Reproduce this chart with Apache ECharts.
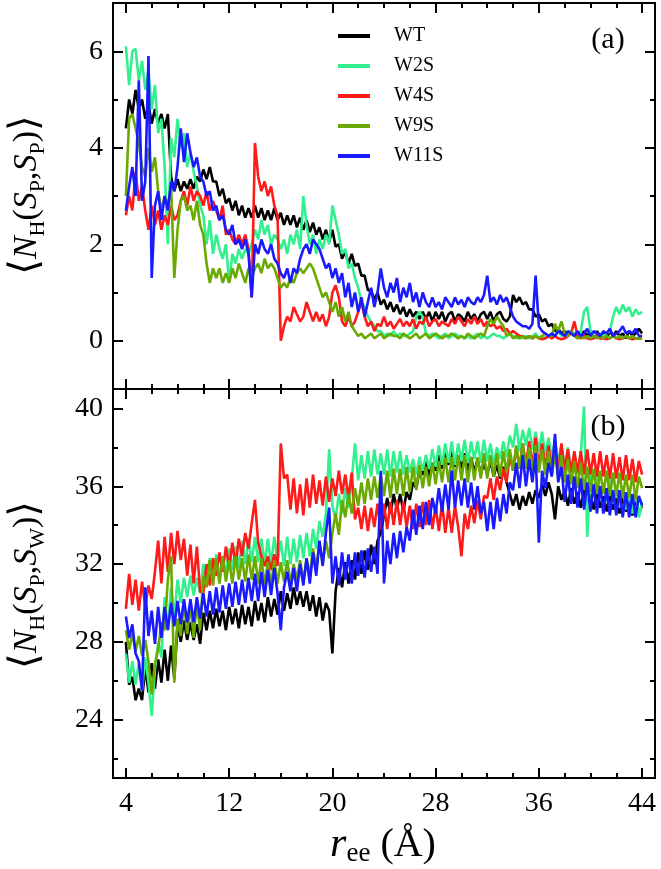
<!DOCTYPE html>
<html><head><meta charset="utf-8">
<script src="https://cdn.jsdelivr.net/npm/echarts@6/dist/echarts.min.js"></script>
<style>html,body{margin:0;padding:0;background:#fff}#c{width:661px;height:869px}</style>
</head><body><div id="c"></div><script>
// r_ee grid: starts at 4 Å, sampled every 0.25 Å up to 44 Å
const R_START = 4, R_STEP = 0.25;
const seriesNames = ['WT', 'W2S', 'W4S', 'W9S', 'W11S'];
const seriesColors = ['#000000', '#33f08f', '#ff1a1a', '#6aaa00', '#1a1aff'];
const xTicks = [4, 12, 20, 28, 36, 44];
const xMinorTicks = [6, 8, 10, 14, 16, 18, 22, 24, 26, 30, 32, 34, 38, 40, 42];
const yTopTicks = [0, 2, 4, 6];
const yTopMinorTicks = [1, 3, 5];
const yBotTicks = [24, 28, 32, 36, 40];
const yBotMinorTicks = [22, 26, 30, 34, 38];

// Panel (a): <N_H(S_P,S_P)>
const topWT = [4.4,5.0,4.7,5.2, 4.8,5.0,4.6,4.9, 4.5,4.8,4.5,4.7, 4.4,4.7,3.4,3.1, 3.35,3.1,3.3,3.15, 3.35,3.15,3.4,3.3,
 3.55,3.35,3.6,3.3, 3.3,3.0,3.15,2.85, 2.95,2.7,2.9,2.6, 2.8,2.55,2.75,2.55, 2.8,2.55,2.75,2.5, 2.7,2.5,2.75,2.5,
 2.65,2.4,2.6,2.4, 2.6,2.35,2.55,2.3, 2.5,2.25,2.45,2.2, 2.35,2.1,2.3,2.05, 2.3,1.95,2.0,1.7, 1.85,1.6,1.8,1.55,
 1.6,1.35,1.35,1.05, 1.05,0.85,1.0,0.75, 0.85,0.65,0.8,0.6, 0.75,0.55,0.7,0.5, 0.65,0.5,0.6,0.45, 0.6,0.45,0.6,0.4,
 0.6,0.45,0.6,0.4, 0.55,0.6,0.4,0.55, 0.5,0.4,0.6,0.45, 0.55,0.4,0.55,0.6, 0.45,0.6,0.4,0.55, 0.6,0.45,0.4,0.5,
 0.95,0.8,0.9,0.75, 0.8,0.65,0.65,0.5, 0.55,0.4,0.45,0.3, 0.35,0.2,0.25,0.15, 0.2,0.1,0.2,0.1, 0.15,0.05,0.2,0.1,
 0.2,0.05,0.2,0.1, 0.15,0.05,0.2,0.1, 0.2,0.1,0.15,0.05, 0.2,0.1,0.15,0.25, 0.15];
const topW2S = [6.1,5.3,6.0,6.05, 5.4,5.8,5.2,5.6, 4.8,5.3,4.3,4.6, 3.6,2.0,4.2,3.8, 4.6,4.0,4.3,3.6, 3.9,3.5,3.2,2.8,
 2.6,2.0,2.5,1.8, 2.2,1.9,1.7,2.0, 1.2,1.8,1.6,1.9, 1.7,1.9,1.8,2.0, 2.3,2.1,2.5,2.2, 2.4,2.0,2.2,2.1,
 1.9,2.1,1.8,2.2, 2.0,2.3,1.9,3.0, 2.4,2.0,2.2,1.8, 2.1,1.9,2.2,2.0, 2.8,2.5,2.2,1.8, 1.9,1.5,1.6,1.3,
 1.1,0.8,0.7,0.5, 0.4,0.3,0.2,0.2, 0.1,0.15,0.1,0.2, 0.1,0.15,0.1,0.1, 0.15,0.2,0.5,0.6, 0.5,0.15,0.1,0.15,
 0.1,0.05,0.1,0.15, 0.05,0.1,0.15,0.1, 0.1,0.05,0.1,0.05, 0.1,0.15,0.05,0.1, 0.05,0.1,0.15,0.1, 0.1,0.05,0.1,0.15,
 0.1,0.05,0.1,0.05, 0.1,0.05,0.1,0.15, 0.05,0.1,0.05,0.1, 0.15,0.1,0.2,0.1, 0.15,0.1,0.2,0.15, 0.1,0.2,0.6,0.7,
 0.2,0.1,0.15,0.1, 0.1,0.15,0.2,0.5, 0.7,0.55,0.75,0.6, 0.7,0.5,0.65,0.55, 0.6];
const topW4S = [2.6,3.0,2.7,3.5, 2.9,3.2,2.7,2.3, 2.8,2.4,2.7,2.3, 2.6,2.4,2.8,2.5, 2.6,2.9,3.1,2.8, 3.2,2.9,3.1,3.0,
 2.8,3.1,2.7,2.9, 2.7,2.5,2.8,2.2, 2.3,2.1,2.0,2.2, 2.0,2.2,1.9,0.9, 4.1,3.4,3.1,3.3, 3.0,3.2,2.8,2.6,
 0.0,0.3,0.5,0.4, 0.7,0.55,0.4,0.5, 0.8,0.6,0.4,0.6, 0.4,0.55,0.3,0.5, 1.0,1.15,0.9,0.4, 0.3,0.5,0.3,0.4,
 0.6,0.8,0.5,0.3, 0.4,0.2,0.35,0.3, 0.5,0.3,0.4,0.25, 0.35,0.45,0.3,0.4, 0.3,0.45,0.25,0.4, 0.35,0.5,0.3,0.4,
 0.45,0.3,0.4,0.35, 0.3,0.45,0.35,0.5, 0.4,0.3,0.45,0.35, 0.5,0.35,0.45,0.3, 0.4,0.3,0.35,0.25, 0.3,0.2,0.25,0.15,
 0.2,0.15,0.1,0.1, 0.05,0.1,0.05,0.1, 0.05,0.03,0.05,0.1, 0.05,0.1,0.05,0.03, 0.05,0.1,0.15,0.4, 0.1,0.05,0.1,0.05,
 0.03,0.05,0.1,0.05, 0.05,0.03,0.05,0.1, 0.05,0.03,0.05,0.1, 0.05,0.03,0.05,0.05, 0.05];
const topW9S = [3.0,4.6,4.7,4.4, 4.1,3.6,3.4,4.0, 3.5,3.8,3.1,2.7, 3.0,2.8,3.2,1.3, 2.3,2.9,3.0,2.7, 2.8,2.5,2.9,2.4,
 2.2,1.6,1.2,1.5, 1.3,1.5,1.2,1.4, 1.2,1.5,1.3,1.6, 1.4,1.2,1.5,1.3, 1.5,1.6,1.4,1.7, 1.5,1.6,1.5,1.3,
 1.1,1.2,1.1,1.3, 1.2,1.4,1.5,1.4, 1.5,1.6,1.5,1.3, 1.1,0.9,1.0,0.8, 0.6,0.8,0.5,0.7, 0.4,0.6,0.3,0.2,
 0.1,0.15,0.05,0.1, 0.15,0.05,0.1,0.15, 0.05,0.1,0.15,0.1, 0.1,0.05,0.15,0.1, 0.05,0.1,0.15,0.05, 0.1,0.15,0.05,0.1,
 0.15,0.1,0.05,0.1, 0.1,0.15,0.1,0.05, 0.1,0.05,0.15,0.1, 0.05,0.1,0.15,0.1, 0.3,0.45,0.35,0.5, 0.4,0.3,0.1,0.15,
 0.05,0.1,0.05,0.1, 0.05,0.1,0.05,0.1, 0.05,0.1,0.15,0.1, 0.1,0.35,0.2,0.4, 0.15,0.1,0.2,0.1, 0.05,0.1,0.05,0.1,
 0.05,0.1,0.05,0.1, 0.05,0.1,0.05,0.1, 0.05,0.1,0.05,0.1, 0.05,0.1,0.05,0.05, 0.05];
const topW11S = [2.7,3.2,3.6,3.0, 5.4,2.9,3.3,5.9, 1.3,2.8,3.1,2.5, 3.0,2.7,3.3,3.1, 3.6,4.4,3.7,4.3, 3.9,3.6,3.8,3.4,
 3.3,3.0,3.1,2.7, 2.8,2.5,2.6,2.3, 2.2,2.4,2.0,2.1, 1.9,2.1,1.8,0.9, 2.0,1.8,2.1,1.9, 1.8,2.0,1.7,1.6,
 1.4,1.3,1.5,1.2, 1.5,1.4,1.7,1.9, 2.0,1.8,2.1,2.0, 1.9,1.7,1.5,1.6, 1.3,1.5,1.2,1.4, 0.9,1.2,0.7,1.0,
 0.6,0.9,0.5,0.8, 1.1,0.7,1.0,1.5, 1.1,0.9,1.2,1.0, 1.3,0.8,1.1,0.9, 1.2,0.8,1.0,0.7, 1.0,0.8,0.7,0.9,
 0.7,0.8,0.65,0.9, 0.8,0.7,0.9,0.75, 0.85,0.7,0.9,0.8, 0.75,0.9,0.8,0.95, 1.35,0.8,0.9,0.75, 0.95,0.8,0.9,0.7,
 0.5,0.4,0.35,0.3, 0.3,0.25,0.35,1.35, 0.3,0.2,0.15,0.1, 0.15,0.1,0.2,0.15, 0.1,0.2,0.15,0.1, 0.2,0.1,0.15,0.25,
 0.1,0.2,0.15,0.1, 0.2,0.15,0.25,0.1, 0.15,0.2,0.3,0.15, 0.2,0.15,0.25,0.1, 0.1];

// Panel (b): <N_H(S_P,S_W)>
const botWT = [28.0,25.8,26.2,25.0, 25.6,25.0,26.7,25.4, 26.9,25.6,27.1,25.9, 27.6,26.0,27.8,26.1, 28.9,28.0,29.1,28.1, 29.0,28.1,28.9,27.9,
 29.5,28.6,29.6,28.7, 29.7,28.8,29.6,28.6, 29.8,28.9,29.7,28.7, 29.9,28.9,29.8,28.8, 30.1,29.1,30.0,29.0, 30.3,29.3,30.2,29.4,
 30.6,29.6,30.5,29.7, 30.8,29.9,30.6,29.8, 30.6,29.6,30.4,29.3, 30.3,29.1,30.0,29.6, 27.4,30.6,31.8,30.8, 32.1,31.0,32.2,31.2,
 32.6,31.5,32.7,31.7, 33.0,32.0,33.2,33.6, 34.5,35.4,34.6,35.6, 34.8,35.6,34.7,35.7, 35.3,36.2,35.9,36.8, 36.6,37.3,36.5,37.2,
 36.8,37.6,36.9,37.7, 37.1,37.9,37.0,37.6, 36.9,37.7,36.8,37.5, 36.7,37.4,36.6,37.2, 36.6,37.3,36.5,37.1, 36.4,37.0,36.2,35.6,
 35.0,35.6,34.8,35.5, 35.0,35.7,35.1,35.8, 35.4,36.1,35.5,36.2, 35.6,34.3,36.0,35.3, 35.8,35.0,35.9,35.1, 35.7,34.9,35.8,35.0,
 35.6,34.8,35.7,34.9, 35.5,34.7,35.6,34.8, 35.4,34.6,35.5,34.7, 35.3,34.5,35.4,34.6, 35.0];
const botW2S = [27.4,25.9,27.0,25.8, 26.9,25.5,27.2,25.9, 24.2,26.6,28.0,27.2, 30.3,28.6,30.8,29.2, 31.2,30.0,31.3,30.3, 31.4,30.4,31.3,30.5,
 32.0,30.9,32.3,31.2, 32.5,31.3,32.4,31.4, 32.8,31.7,32.9,31.8, 33.2,32.0,33.3,32.1, 33.4,32.1,33.3,32.0, 33.3,32.0,33.4,32.1,
 33.2,31.9,33.4,32.0, 33.3,32.1,33.5,32.3, 33.6,32.4,33.8,32.8, 34.2,33.4,34.6,37.9, 35.0,34.3,35.6,34.6, 35.9,34.9,36.3,38.2,
 36.3,37.6,36.4,37.8, 36.5,37.9,36.6,37.7, 36.6,37.9,36.5,37.8, 36.7,37.8,36.6,37.6, 36.7,37.4,36.6,37.5, 36.8,37.6,36.9,37.9,
 37.0,38.1,37.1,38.2, 37.2,38.3,37.1,38.2, 37.3,38.4,37.2,38.3, 37.4,38.3,37.2,38.4, 37.3,38.2,37.1,38.0, 37.4,38.3,37.5,38.6,
 38.0,39.2,37.8,38.9, 38.1,39.0,37.9,38.8, 37.8,38.8,37.6,38.5, 37.4,38.4,37.2,38.1, 37.0,38.0,36.8,37.7, 36.6,37.6,40.1,33.4,
 36.6,35.6,36.8,35.5, 36.2,35.2,36.4,35.1, 35.9,34.9,36.0,34.8, 35.7,34.6,35.8,34.4, 35.2];
const botW4S = [29.7,31.5,29.9,31.2, 29.6,31.1,29.8,30.9, 30.2,31.6,33.2,31.0, 33.4,31.6,33.6,32.0, 33.7,32.2,33.3,31.4, 33.0,31.0,32.9,30.6,
 30.5,32.0,30.9,32.3, 31.4,32.6,31.6,32.9, 31.8,33.1,31.9,33.3, 32.4,33.6,32.8,34.1, 35.3,33.1,32.4,31.9, 32.4,31.7,32.5,31.9,
 38.2,36.4,36.6,34.8, 36.4,34.6,36.1,34.5, 36.4,34.9,36.6,35.1, 36.3,35.0,36.5,35.2, 36.4,35.5,36.8,35.6, 36.6,35.4,36.7,34.3,
 34.9,33.8,35.0,33.7, 34.9,33.9,35.1,33.8, 35.1,33.8,35.2,34.0, 35.3,34.0,35.2,33.9, 35.0,33.8,35.1,33.9, 35.2,34.0,35.3,33.8,
 35.0,33.7,35.1,33.6, 34.9,33.6,35.0,33.9, 32.4,34.6,33.8,35.0, 34.1,35.3,34.3,35.5, 35.4,36.4,35.3,36.5, 35.8,36.9,36.2,37.6,
 36.8,38.0,36.9,38.2, 37.1,38.3,37.0,38.5, 37.0,38.2,36.9,38.1, 36.9,38.0,36.8,38.2, 36.8,37.9,36.7,37.8, 36.7,37.8,36.6,37.9,
 36.6,37.7,36.5,37.8, 36.5,37.6,36.4,37.7, 36.4,37.5,36.3,37.6, 36.3,37.4,36.2,37.3, 36.6];
const botW9S = [28.6,27.6,28.4,27.5, 28.3,27.3,28.1,27.0, 25.3,26.9,27.6,29.0, 28.6,31.2,32.4,25.9, 29.2,28.3,30.1,28.4, 29.9,28.2,30.0,28.6,
 31.4,30.8,32.2,30.9, 32.3,31.0,32.4,31.1, 32.2,31.0,32.4,31.2, 32.3,31.1,32.5,31.2, 32.4,31.0,32.3,30.9, 32.1,30.9,32.2,31.0,
 32.1,31.1,32.2,31.0, 32.0,31.2,32.2,31.1, 32.3,31.4,32.8,31.8, 33.1,32.0,33.2,32.3, 33.6,34.6,33.5,35.3, 34.4,35.6,34.6,35.9,
 35.0,36.2,35.1,36.4, 35.3,36.5,35.4,36.6, 35.5,36.8,35.4,36.9, 35.6,36.9,35.5,37.0, 35.7,37.0,35.8,37.1, 35.9,37.0,36.0,37.2,
 36.1,37.3,36.2,37.5, 36.2,37.5,36.3,37.6, 36.3,37.6,36.2,37.5, 36.3,37.5,36.4,37.7, 36.4,37.6,36.5,37.7, 36.5,37.8,36.7,37.9,
 36.8,38.1,36.9,38.2, 36.9,38.0,36.8,38.1, 36.7,37.9,36.6,37.8, 36.5,37.7,36.4,37.6, 36.2,37.4,36.1,37.3, 35.9,37.2,35.8,37.0,
 35.7,36.9,35.6,36.8, 35.6,36.8,35.5,36.7, 35.5,36.7,35.4,36.6, 35.4,36.6,35.3,36.5, 35.9];
const botW11S = [29.3,28.2,28.9,27.4, 27.0,25.5,30.8,28.3, 29.6,27.9,29.8,28.2, 29.8,28.6,30.0,28.8, 30.1,28.9,30.2,29.0, 30.2,29.0,30.3,29.2,
 30.5,29.3,30.6,29.4, 30.8,29.5,30.9,29.7, 31.0,29.8,31.1,29.9, 31.2,30.0,31.3,30.1, 31.5,30.1,31.6,30.3, 31.7,30.4,31.8,30.5,
 28.6,30.8,31.6,30.6, 31.8,30.6,32.0,30.9, 32.3,31.0,32.6,31.4, 33.2,31.9,33.6,34.9, 31.0,32.4,30.9,32.6, 31.2,32.5,31.0,32.6,
 31.4,32.7,31.3,32.8, 31.6,32.9,31.5,36.8, 31.0,33.2,32.0,33.6, 32.3,33.7,32.6,33.9, 33.2,34.8,33.5,35.0, 33.8,35.2,34.0,35.4,
 34.6,35.9,34.7,36.1, 34.8,36.8,34.9,36.3, 35.0,36.4,34.9,36.2, 34.8,36.0,34.6,35.2, 33.7,35.2,33.8,35.4, 34.2,35.6,34.6,36.2,
 35.8,37.2,35.9,37.6, 36.0,37.4,36.2,37.7, 33.1,36.8,35.9,37.2, 36.5,38.7,36.2,37.0, 35.2,36.6,35.1,36.5, 34.9,36.4,34.8,36.2,
 34.7,36.1,34.6,36.0, 34.6,35.9,34.5,35.8, 34.5,35.8,34.4,35.7, 34.4,35.6,34.4,35.5, 35.0];

const topData = [topWT, topW2S, topW4S, topW9S, topW11S];
const botData = [botWT, botW2S, botW4S, botW9S, botW11S];

const SERIF = 'Liberation Serif';
function toXY(vals) { return vals.map((v, i) => [R_START + i * R_STEP, v]); }

const AXLINE = { show: true, onZero: false, lineStyle: { color: '#000', width: 2 } };
function tick(vals, len) {
  return { show: true, inside: true, length: len, customValues: vals, lineStyle: { color: '#000', width: 2 } };
}
function makeXAxes(grid, showLabels) {
  const base = { type: 'value', gridIndex: grid, min: 3, max: 45, axisLine: AXLINE, splitLine: { show: false } };
  return [
    Object.assign({}, base, { position: 'bottom', axisTick: tick(xTicks, 10),
      axisLabel: { show: showLabels, customValues: xTicks, color: '#000', fontFamily: SERIF, fontSize: 28, margin: 12 } }),
    Object.assign({}, base, { position: 'bottom', axisTick: tick(xMinorTicks, 5), axisLabel: { show: false } }),
    Object.assign({}, base, { position: 'top', axisTick: tick(xTicks, 10), axisLabel: { show: false } }),
    Object.assign({}, base, { position: 'top', axisTick: tick(xMinorTicks, 5), axisLabel: { show: false } })
  ];
}
function makeYAxes(grid, min, max, major, minor) {
  const base = { type: 'value', gridIndex: grid, min: min, max: max, axisLine: AXLINE, splitLine: { show: false } };
  return [
    Object.assign({}, base, { position: 'left', axisTick: tick(major, 10),
      axisLabel: { show: true, customValues: major, color: '#000', fontFamily: SERIF, fontSize: 28, margin: 10 } }),
    Object.assign({}, base, { position: 'left', axisTick: tick(minor, 5), axisLabel: { show: false } }),
    Object.assign({}, base, { position: 'right', axisTick: tick(major, 10), axisLabel: { show: false } }),
    Object.assign({}, base, { position: 'right', axisTick: tick(minor, 5), axisLabel: { show: false } })
  ];
}

const series = [];
seriesNames.forEach((name, k) => {
  series.push({ name: name, type: 'line', xAxisIndex: 0, yAxisIndex: 0, data: toXY(topData[k]),
    symbol: 'none', showSymbol: false, color: seriesColors[k],
    lineStyle: { width: 2.6, color: seriesColors[k] }, z: 2 + k });
});
seriesNames.forEach((name, k) => {
  series.push({ name: name, type: 'line', xAxisIndex: 4, yAxisIndex: 4, data: toXY(botData[k]),
    symbol: 'none', showSymbol: false, color: seriesColors[k],
    lineStyle: { width: 2.6, color: seriesColors[k] }, z: 2 + k });
});

const richY = {
  b: { fontFamily: 'DejaVu Serif', fontSize: 40, lineHeight: 44, fill: '#000' },
  i: { fontFamily: SERIF, fontStyle: 'italic', fontSize: 34, lineHeight: 44 },
  r: { fontFamily: SERIF, fontSize: 34, lineHeight: 44 },
  s: { fontFamily: SERIF, fontSize: 22, lineHeight: 14, verticalAlign: 'bottom' }
};
function yTitle(x, y, sub2) {
  return { type: 'text', x: x, y: y, rotation: Math.PI / 2, z: 100,
    style: { text: '{b|⟨}{i|N}{s|H}{r|(}{i|S}{s|P}{r|,}{i|S}{s|' + sub2 + '}{r|)}{b|⟩}',
      rich: richY, fill: '#000', align: 'center', verticalAlign: 'middle',
      textAlign: 'center', textVerticalAlign: 'middle' } };
}

const chart = echarts.init(document.getElementById('c'), null, { renderer: 'canvas' });
chart.setOption({
  animation: false,
  backgroundColor: '#fff',
  grid: [
    { left: 113, top: 3, width: 542, height: 386 },
    { left: 113, top: 389, width: 542, height: 389 }
  ],
  xAxis: makeXAxes(0, false).concat(makeXAxes(1, true)),
  yAxis: makeYAxes(0, -1, 7, yTopTicks, yTopMinorTicks).concat(makeYAxes(1, 21, 41, yBotTicks, yBotMinorTicks)),
  legend: { data: seriesNames, orient: 'vertical', left: 333, top: 21, itemWidth: 32, itemHeight: 4,
    itemGap: 10, icon: 'rect', selectedMode: false,
    textStyle: { fontFamily: SERIF, fontSize: 20, color: '#000', lineHeight: 20, padding: [0, 0, 0, 19] } },
  series: series,
  graphic: [
    yTitle(27, 195, 'P'),
    yTitle(27, 585, 'W'),
    { type: 'text', x: 383, y: 845, z: 100,
      style: { text: '{i|r}{s|ee}{r| (Å)}', fill: '#000', align: 'center', verticalAlign: 'middle',
        textAlign: 'center', textVerticalAlign: 'middle',
        rich: { i: { fontFamily: SERIF, fontStyle: 'italic', fontSize: 42, lineHeight: 44 },
                r: { fontFamily: SERIF, fontSize: 40, lineHeight: 44 },
                s: { fontFamily: SERIF, fontSize: 27, lineHeight: 16, verticalAlign: 'bottom' } } } },
    { type: 'text', x: 608, y: 40, z: 100,
      style: { text: '(a)', fontFamily: SERIF, fontSize: 30, fill: '#000', align: 'center', verticalAlign: 'middle',
        textAlign: 'center', textVerticalAlign: 'middle' } },
    { type: 'text', x: 608, y: 427, z: 100,
      style: { text: '(b)', fontFamily: SERIF, fontSize: 30, fill: '#000', align: 'center', verticalAlign: 'middle',
        textAlign: 'center', textVerticalAlign: 'middle' } }
  ]
});
</script></body></html>
